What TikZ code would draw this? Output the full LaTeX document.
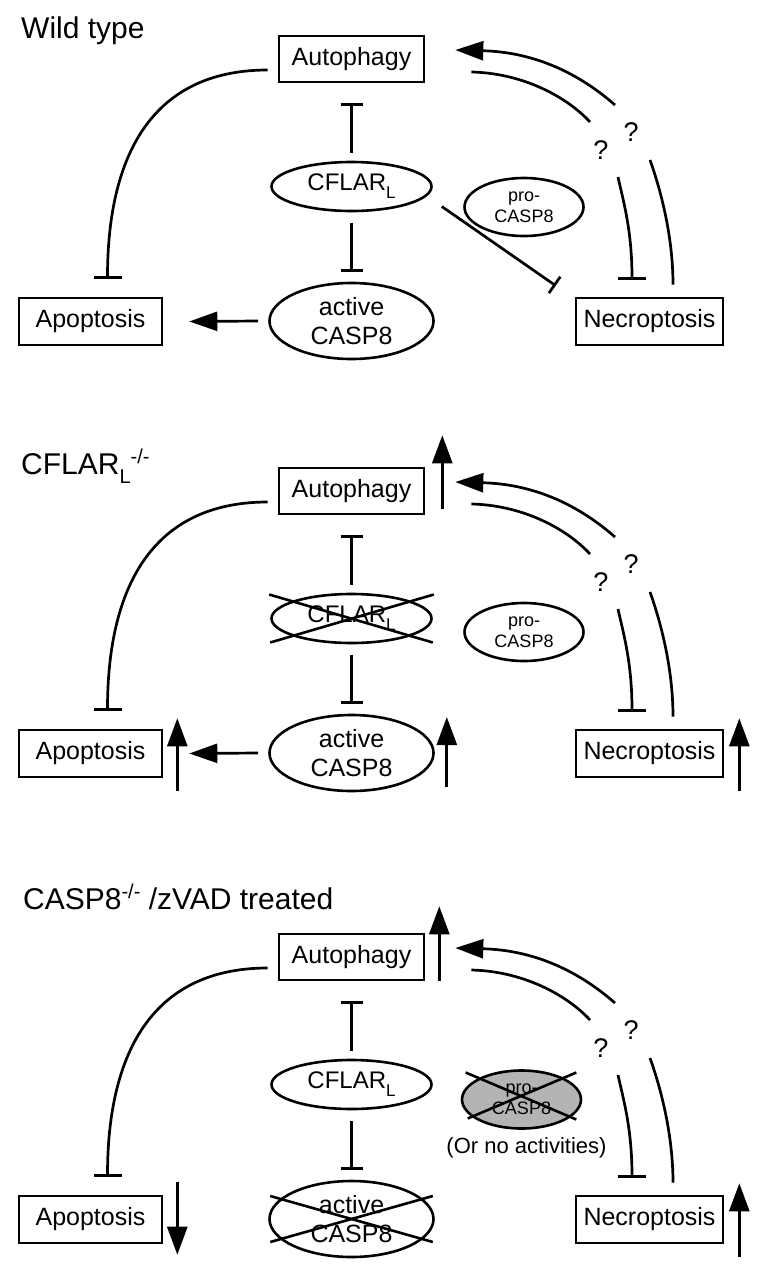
\documentclass[tikz,border=0pt]{standalone}
\usepackage{fontspec}
\setmainfont{Liberation Sans}
\usetikzlibrary{arrows.meta,calc,shapes.geometric,positioning}
\definecolor{progrey}{RGB}{180,180,180}
\tikzset{box/.style={draw,line width=2.6pt,minimum width=145pt,minimum height=46pt,inner sep=0pt,
           font=\fontsize{25}{29}\selectfont},
         oval/.style={draw,ellipse,line width=2.6pt,inner sep=0pt,align=center},
         inh/.style={-{Bar[width=#1]},line width=2.7pt},
         inh/.default=28pt,
         act/.style={-{Triangle[length=28pt,width=19pt]},line width=2.7pt},
         lvl/.style={-{Triangle[length=28pt,width=20pt]},line width=2.7pt},
         cross/.style={line width=2.6pt},
         qmark/.style={font=\fontsize{27}{27}\selectfont,inner sep=0pt},
         title/.style={anchor=base west,inner sep=0pt,font=\fontsize{30}{30}\selectfont}}

\begin{document}
\begin{tikzpicture}[x=1pt,y=-1pt]
  \useasboundingbox (0,0) rectangle (766,1274);
  % panel titles
  \node[title] (t1) at (21,38) {Wild type};
  \node[title] (t2) at (21,474) {CFLAR\raisebox{-9pt}{\fontsize{20}{20}\selectfont L}%
    \raisebox{11pt}{\fontsize{20}{20}\selectfont -/-}};
  \node[title] (t3) at (23,909) {CASP8\raisebox{11pt}{\fontsize{20}{20}\selectfont -/-} /zVAD treated};
  % what the three panels share
  \foreach \p/\dy in {1/0,2/432,3/898}{
    \node[box] (auto\p) at (351.5,59+\dy) {Autophagy};
    \node[box,minimum width=143pt,minimum height=47pt] (apop\p) at (90.5,321.5+\dy) {Apoptosis};
    \node[box,minimum width=147pt,minimum height=47pt] (necro\p) at (649.5,321.5+\dy) {Necroptosis};
    \node[oval,minimum width=160pt,minimum height=49pt,font=\fontsize{24}{24}\selectfont]
      (cflar\p) at (351.5,186.5+\dy) {CFLAR\raisebox{-8pt}{\fontsize{17}{17}\selectfont L}};
    \node[oval,minimum width=164pt,minimum height=76pt,font=\fontsize{25}{29}\selectfont]
      (casp\p) at (351.5,321+\dy) {active\\CASP8};
    \node[qmark] (qin\p) at (601,150+\dy) {?};
    \node[qmark] (qout\p) at (631,132+\dy) {?};
    \draw[inh=22pt] ($(cflar\p.north)+(0,-8)$) -- ($(auto\p.south)+(0,20)$);
    \draw[inh=22pt] ($(cflar\p.south)+(0,11)$) -- ($(casp\p.north)+(0,-10)$);
    \draw[inh] ($(auto\p.west)+(-10,11)$) .. controls +(-118,0) and +(0,-120) ..
      ($(apop\p.north)+(17,-18)$);
    \draw[line width=2.7pt] ($(auto\p.east)+(46,13)$) .. controls +(49,1) and +(-25,-27) ..
      ($(qin\p)+(-11,-28)$);
    \draw[inh] ($(qin\p)+(17,27)$) .. controls +(5,23) and +(0,-50) .. ($(necro\p.north)+(-17.5,-17)$);
    \draw[line width=2.7pt] ($(necro\p.north)+(23.5,-12)$) .. controls +(0,-50) and +(10,28) ..
      ($(qout\p)+(19,28)$);
    \draw[act] ($(qout\p)+(-16,-27)$) .. controls +(-40,-35) and +(75,2) .. ($(auto\p.east)+(30,-9)$);
  }
  \foreach \p in {1,2}
    \draw[act] ($(casp\p.west)+(-10,0)$) -- ($(apop\p.east)+(26,0)$);

  % wild type
  \node[oval,minimum width=119pt,minimum height=58pt,font=\fontsize{18}{21}\selectfont]
    (pro1) at (524,207) {pro-\\CASP8};
  \draw[inh=20pt] ($(cflar1.east)+(9,20)$) -- ($(necro1.north west)+(-19,-11)$);

  % CFLAR_L knock-out
  \node[oval,minimum width=119pt,minimum height=58pt,font=\fontsize{18}{21}\selectfont]
    (pro2) at (524,632) {pro-\\CASP8};
  \draw[cross] ($(cflar2.west)+(-1,-24)$) -- ($(cflar2.east)+(0,24)$);
  \draw[cross] ($(cflar2.east)+(1,-24)$) -- ($(cflar2.west)+(0,24)$);
  \draw[lvl] ($(auto2.south east)+(17,-6)$) -- ++(0,-74);
  \draw[lvl] ($(apop2.south east)+(14,13)$) -- ++(0,-73);
  \draw[lvl] ($(casp2.east)+(12,34)$) -- ++(0,-70);
  \draw[lvl] ($(necro2.south east)+(15,13)$) -- ++(0,-73);

  % CASP8 knock-out / zVAD
  \node[oval,fill=progrey,minimum width=119pt,minimum height=58pt,font=\fontsize{18}{21}\selectfont]
    (pro3) at (521.5,1099.5) {pro-\\CASP8};
  \node[below=8pt of pro3,xshift=5pt,inner sep=0pt,font=\fontsize{22}{22}\selectfont] (noact) {(Or no activities)};
  \draw[cross] ($(pro3.west)+(5,-27)$) -- ($(pro3.east)+(-6,20)$);
  \draw[cross] ($(pro3.east)+(-6,-27)$) -- ($(pro3.west)+(7,19)$);
  \draw[cross] ($(casp3.west)+(2,-23)$) -- ($(casp3.east)+(-2,23)$);
  \draw[cross] ($(casp3.west)+(2,23)$) -- ($(casp3.east)+(-2,-23)$);
  \draw[lvl] ($(auto3.south east)+(14,0)$) -- ++(0,-75);
  \draw[lvl] ($(apop3.north east)+(14,-13)$) -- ++(0,73);
  \draw[lvl] ($(necro3.south east)+(15,13)$) -- ++(0,-74);
\end{tikzpicture}
\end{document}
